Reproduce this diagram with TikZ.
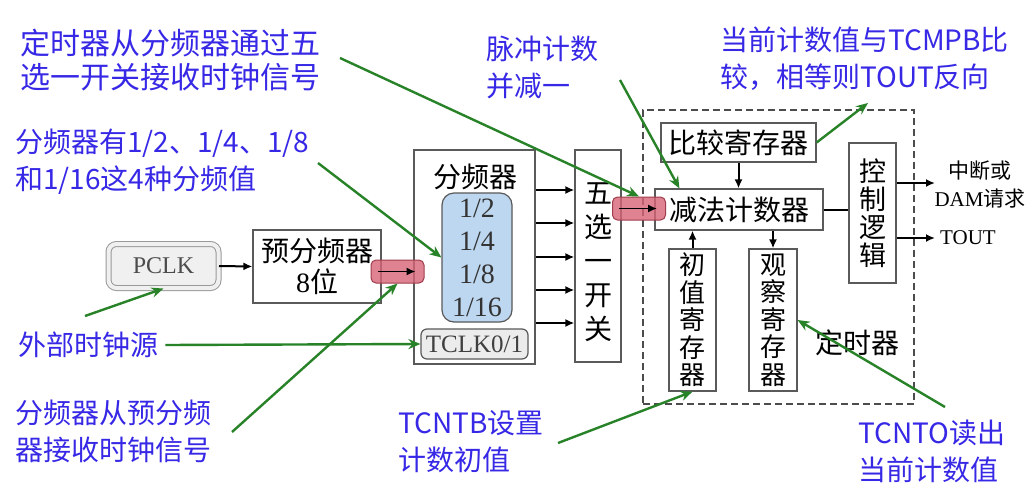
\documentclass[tikz,border=0pt]{standalone}
\usepackage{fontspec}
\setmainfont{Liberation Serif}
\newfontfamily\cjk{Noto Sans CJK SC}
\usetikzlibrary{arrows.meta}

\begin{document}
\begin{tikzpicture}[x=1pt,y=1pt,yscale=-1,xscale=1,
  blk/.style={draw={rgb, 255:red, 90; green, 90; blue, 90 },line width=1.2pt,fill=white,inner sep=0pt,align=center,font=\cjk\fontsize{28}{28}\selectfont},
  pill/.style={draw={rgb, 255:red, 160; green, 60; blue, 75 },fill={rgb, 255:red, 215; green, 100; blue, 120 },fill opacity=0.8,rounded corners=5pt,minimum width=53pt,minimum height=23pt,line width=1pt},
  sig/.style={line width=2pt,-{Latex[length=9pt,width=8pt]}},
  note/.style={text={rgb, 255:red, 55; green, 40; blue, 230 },font=\cjk\fontsize{28}{37}\selectfont,align=left,anchor=west,inner sep=0pt},
  hint/.style={draw={rgb, 255:red, 40; green, 130; blue, 40 },line width=2.4pt,-{Stealth[length=12pt,width=10pt]}}]
\useasboundingbox (0,0) rectangle (1035,493);

%Shape: Rectangle [PCLK]
\node[blk,rounded corners=8pt,draw=gray!80,fill=gray!12,double=gray!12,double distance=4pt,line width=1pt,minimum width=110pt,minimum height=44pt,font=\fontsize{24}{24}\selectfont,text=black!70] (pclk) at (163.5,266) {PCLK};
%Shape: Rectangle [prescaler]
\node[blk,minimum width=128pt,minimum height=73pt,font=\cjk\fontsize{28}{31}\selectfont] (prediv) at (317,266.5) {预分频器\\{\rmfamily 8}位};
\draw[sig] (pclk.east) -- (prediv.west);

%Shape: Rectangle [divider]
\node[blk,minimum width=121pt,minimum height=214pt] (divbox) at (474.5,257) {};
\node[font=\cjk\fontsize{28}{28}\selectfont] (divtitle) at (475,177) {分频器};
\node[draw=gray!70!black,fill={rgb, 255:red, 190; green, 215; blue, 240 },rounded corners=12pt,line width=1.2pt,minimum width=70pt,minimum height=129pt,inner sep=0pt,align=center,font=\fontsize{28}{33}\selectfont,text=black!80] (ratios) at (477,257.5) {1/2\\1/4\\1/8\\1/16};
\node[draw=gray!70!black,fill=gray!15,rounded corners=6pt,line width=1.2pt,minimum width=107pt,minimum height=30pt,inner sep=0pt,font=\fontsize{25}{25}\selectfont,text=black!75] (tclk) at (474.5,344) {TCLK0/1};

%Shape: Rectangle [switch]
\node[blk,minimum width=46pt,minimum height=212pt] (mux) at (598,256) {};
\node[font=\cjk\fontsize{28}{34}\selectfont,align=center] (muxtext) at (598,262) {五\\选\\一\\开\\关};
\foreach \y [count=\i] in {190,223,257,290,323} {
  \coordinate (tap\i) at (0,\y);
  \draw[sig] (divbox.east |- tap\i) -- (mux.west |- tap\i);
}

%Shape: Rectangle [timer]
\node[draw=black!70,line width=1.6pt,dash pattern=on 7pt off 4pt,minimum width=271pt,minimum height=294pt,inner sep=0pt] (timer) at (778.5,257) {};
\node[blk,minimum width=155pt,minimum height=39pt] (cmp) at (738.5,142.5) {比较寄存器};
\node[blk,minimum width=168pt,minimum height=41pt] (cnt) at (739,209.5) {减法计数器};
\node[blk,minimum width=47pt,minimum height=140pt,font=\cjk\fontsize{27}{28}\selectfont] (ctrl) at (872.5,213) {控\\制\\逻\\辑};
\node[blk,minimum width=47pt,minimum height=142pt,font=\cjk\fontsize{26}{27.5}\selectfont] (init) at (692.5,320) {初\\值\\寄\\存\\器};
\node[blk,minimum width=48pt,minimum height=142pt,font=\cjk\fontsize{26}{27.5}\selectfont] (obs) at (773,320) {观\\察\\寄\\存\\器};
\node[font=\cjk\fontsize{28}{28}\selectfont] (timerlbl) at (857,343) {定时器};
\draw[sig] (cmp.south) -- (cmp.south |- cnt.north);
\draw[sig] (init.north) -- (init.north |- cnt.south);
\draw[sig] (cnt.south -| obs.north) -- (obs.north);
\draw[line width=2pt] (cnt.east) -- (cnt.east -| ctrl.west);

%Outputs
\coordinate (irq) at (935,183);
\coordinate (tout) at (935,238);
\draw[sig] (ctrl.east |- irq) -- (irq);
\draw[sig] (ctrl.east |- tout) -- (tout);
\node[font=\cjk\fontsize{21}{28}\selectfont,align=center] (irqlbl) at (980,185) {中断或\\{\rmfamily DAM}请求};
\node[font=\fontsize{21}{21}\selectfont] (toutlbl) at (968,238) {TOUT};

%Shape: Pills
\node[pill] (pill1) at (397.5,271.5) {};
\draw[sig,line width=1.5pt] ([xshift=7pt]pill1.west) -- ([xshift=-9pt]pill1.east);
\node[pill] (pill2) at (639,208.5) {};
\draw[sig,line width=1.5pt] ([xshift=7pt]pill2.west) -- ([xshift=-9pt]pill2.east);

%Text notes
\node[note,font=\cjk\fontsize{30}{34}\selectfont] (ann1) at (20,60) {定时器从分频器通过五\\选一开关接收时钟信号};
\node[note] (ann2) at (15,161.5) {分频器有1/2、1/4、1/8\\和1/16这4种分频值};
\node[note] (ann3) at (18,345) {外部时钟源};
\node[note] (ann4) at (15,431) {分频器从预分频\\器接收时钟信号};
\node[note] (ann5) at (398,441.5) {TCNTB设置\\计数初值};
\node[note] (ann6) at (486,67) {脉冲计数\\并减一};
\node[note] (ann7) at (720,59) {当前计数值与TCMPB比\\较，相等则TOUT反向};
\node[note] (ann8) at (858,451) {TCNTO读出\\当前计数值};

%Curve Lines [hints]
\coordinate (h1) at (340,58);
\coordinate (h2) at (318,163);
\coordinate (h3) at (85,316);
\coordinate (h4) at (232,432);
\coordinate (h5) at (558,443);
\coordinate (h6) at (620,80);
\coordinate (h7) at (868,103);
\coordinate (h8) at (945,407);
\draw[hint] (h1) -- (pill2.north);
\draw[hint] (h2) -- (ratios.west);
\draw[hint] (h3) -- (pclk.south);
\draw[hint] ([xshift=7pt]ann3.east) -- (tclk.west);
\draw[hint] (h4) -- (pill1.south);
\draw[hint] (h5) -- (init.south);
\draw[hint] (h6) -- ([xshift=25pt]cnt.north west);
\draw[hint] (cmp.east) -- (h7);
\draw[hint] (h8) -- (obs.east);

\end{tikzpicture}
\end{document}
